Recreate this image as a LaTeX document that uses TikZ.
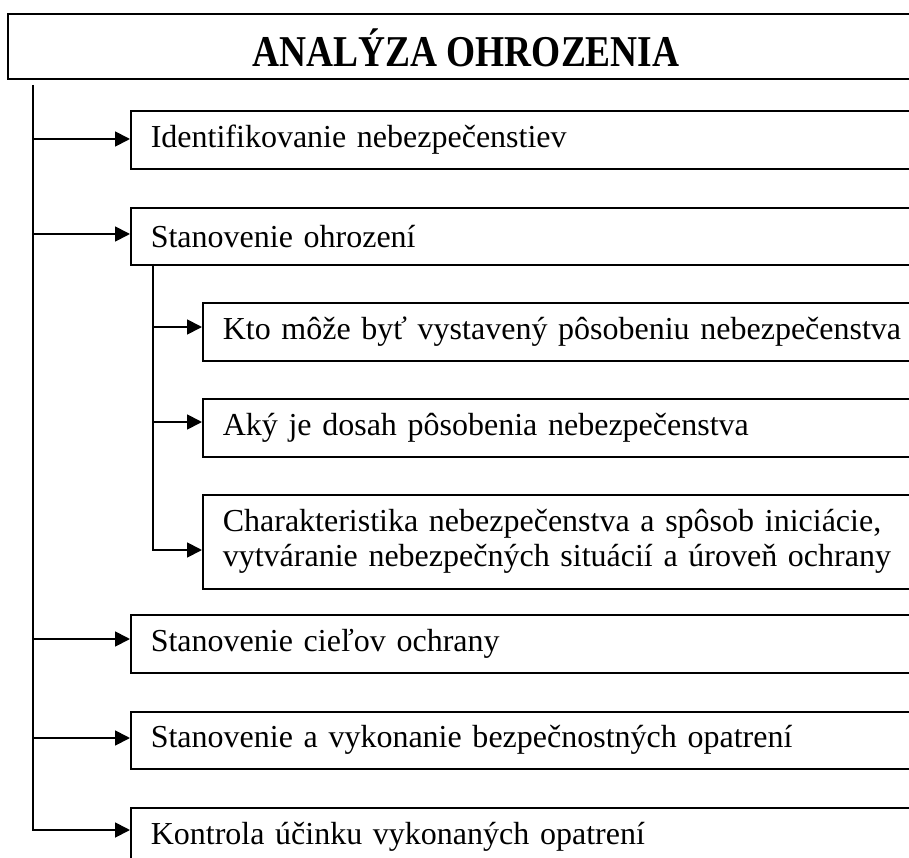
\documentclass[tikz,border=0pt]{standalone}
\usepackage{fontspec}
\setmainfont{Liberation Serif}
\usetikzlibrary{arrows.meta}
\begin{document}
\begin{tikzpicture}[x=1pt,y=-1pt,
  box/.style={draw, line width=1.6pt, anchor=north west, minimum width=800pt,
    text width=760pt, inner xsep=20pt, inner ysep=3pt, align=left,
    font=\fontsize{32}{35}\selectfont},
  conn/.style={line width=1.8pt, -{Triangle[length=15pt,width=15pt]}},
  trunk/.style={line width=1.8pt}]
\clip (0,0) rectangle (909,858);
\node[draw, line width=2.2pt, anchor=north west, minimum width=916pt, minimum height=65pt,
  inner sep=0pt] (title) at (7,13) {};
\node[anchor=base, inner sep=0pt, font=\fontsize{44}{50}\selectfont\bfseries] (titletext) at (466,66.5)
  {\scalebox{0.85}[1]{ANALÝZA OHROZENIA}};
% main boxes
\node[box, minimum height=58pt] (b1) at (130,110) {Identifikovanie nebezpečenstiev};
\node[box, minimum height=57pt] (b2) at (130,207) {Stanovenie ohrození};
\node[box, minimum height=58pt] (b3) at (130,614) {Stanovenie cieľov ochrany};
\node[box, minimum height=57pt] (b4) at (130,711) {Stanovenie a vykonanie bezpečnostných opatrení};
\node[box, minimum height=58pt] (b5) at (130,807) {Kontrola účinku vykonaných opatrení};
% sub boxes
\node[box, minimum height=58pt] (s1) at (202,302) {Kto môže byť vystavený pôsobeniu nebezpečenstva};
\node[box, minimum height=58pt] (s2) at (202,398) {Aký je dosah pôsobenia nebezpečenstva};
\node[box, minimum height=94pt] (s3) at (202,494) {Charakteristika nebezpečenstva a spôsob iniciácie,\\vytváranie nebezpečných situácií a úroveň ochrany};
% main trunk
\coordinate (t0) at (33,85);
\coordinate (a1) at (33,139);
\coordinate (a2) at (33,234);
\coordinate (a3) at (33,639);
\coordinate (a4) at (33,738);
\coordinate (a5) at (33,830);
\draw[conn] (t0) -- (a5) -- (a5 -| b5.west);
\draw[conn] (a1) -- (a1 -| b1.west);
\draw[conn] (a2) -- (a2 -| b2.west);
\draw[conn] (a3) -- (a3 -| b3.west);
\draw[conn] (a4) -- (a4 -| b4.west);
% sub trunk
\coordinate (u0) at (153,264);
\coordinate (u1) at (153,327);
\coordinate (u2) at (153,422);
\coordinate (u3) at (153,550);
\draw[conn] (u0) -- (u3) -- (u3 -| s3.west);
\draw[conn] (u1) -- (u1 -| s1.west);
\draw[conn] (u2) -- (u2 -| s2.west);
\end{tikzpicture}
\end{document}
